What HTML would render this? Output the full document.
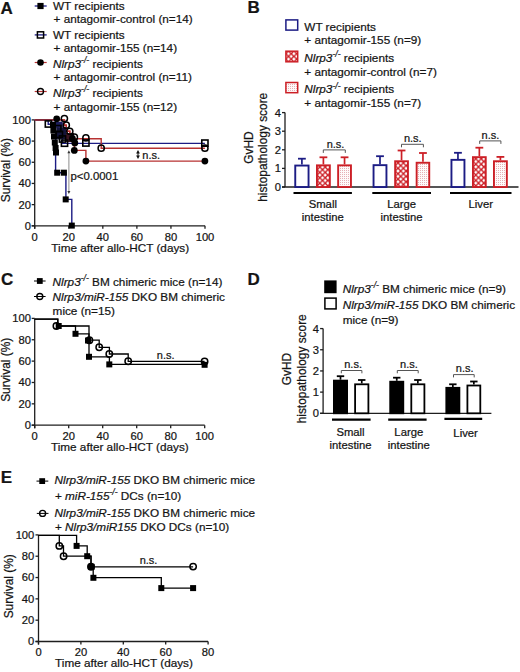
<!DOCTYPE html>
<html><head><meta charset="utf-8"><style>
html,body{margin:0;padding:0;background:#fff;}
svg{display:block;}
text{font-family:"Liberation Sans",sans-serif;fill:#141414;stroke:#141414;stroke-width:0.22px;}
</style></head><body>
<svg width="520" height="672" viewBox="0 0 520 672">
<defs>
<pattern id="xh0" patternUnits="userSpaceOnUse" width="5.4" height="5.4" x="288.50" y="53.70"><rect width="5.4" height="5.4" fill="#cc1f26"/><path d="M0.00,-1.75 L1.75,0.00 L0.00,1.75 L-1.75,0.00 Z M5.40,-1.75 L7.15,0.00 L5.40,1.75 L3.65,0.00 Z M0.00,3.65 L1.75,5.40 L0.00,7.15 L-1.75,5.40 Z M5.40,3.65 L7.15,5.40 L5.40,7.15 L3.65,5.40 Z M2.70,0.95 L4.45,2.70 L2.70,4.45 L0.95,2.70 Z" fill="#fff"/></pattern><pattern id="xh1" patternUnits="userSpaceOnUse" width="5.4" height="5.4" x="317.10" y="167.00"><rect width="5.4" height="5.4" fill="#cc1f26"/><path d="M0.00,-1.75 L1.75,0.00 L0.00,1.75 L-1.75,0.00 Z M5.40,-1.75 L7.15,0.00 L5.40,1.75 L3.65,0.00 Z M0.00,3.65 L1.75,5.40 L0.00,7.15 L-1.75,5.40 Z M5.40,3.65 L7.15,5.40 L5.40,7.15 L3.65,5.40 Z M2.70,0.95 L4.45,2.70 L2.70,4.45 L0.95,2.70 Z" fill="#fff"/></pattern><pattern id="xh2" patternUnits="userSpaceOnUse" width="5.4" height="5.4" x="395.30" y="162.90"><rect width="5.4" height="5.4" fill="#cc1f26"/><path d="M0.00,-1.75 L1.75,0.00 L0.00,1.75 L-1.75,0.00 Z M5.40,-1.75 L7.15,0.00 L5.40,1.75 L3.65,0.00 Z M0.00,3.65 L1.75,5.40 L0.00,7.15 L-1.75,5.40 Z M5.40,3.65 L7.15,5.40 L5.40,7.15 L3.65,5.40 Z M2.70,0.95 L4.45,2.70 L2.70,4.45 L0.95,2.70 Z" fill="#fff"/></pattern><pattern id="xh3" patternUnits="userSpaceOnUse" width="5.4" height="5.4" x="473.10" y="158.80"><rect width="5.4" height="5.4" fill="#cc1f26"/><path d="M0.00,-1.75 L1.75,0.00 L0.00,1.75 L-1.75,0.00 Z M5.40,-1.75 L7.15,0.00 L5.40,1.75 L3.65,0.00 Z M0.00,3.65 L1.75,5.40 L0.00,7.15 L-1.75,5.40 Z M5.40,3.65 L7.15,5.40 L5.40,7.15 L3.65,5.40 Z M2.70,0.95 L4.45,2.70 L2.70,4.45 L0.95,2.70 Z" fill="#fff"/></pattern>
<pattern id="dots" patternUnits="userSpaceOnUse" width="2" height="2" x="0" y="0">
<rect width="2" height="2" fill="#fefafa"/>
<rect x="0" y="0" width="1" height="1" fill="#e6b0b6"/>
</pattern>
</defs>
<rect width="520" height="672" fill="#fff"/>
<text x="0.6" y="13.5" font-size="17" font-weight="bold">A</text>
<text x="247.6" y="13.4" font-size="17" font-weight="bold">B</text>
<text x="1.0" y="284.6" font-size="17" font-weight="bold">C</text>
<text x="247.6" y="284.7" font-size="17" font-weight="bold">D</text>
<text x="0.8" y="482.7" font-size="17" font-weight="bold">E</text>
<line x1="34.7" y1="6.0" x2="46.7" y2="6.0" stroke="#1c1c84" stroke-width="1.3"/>
<rect x="37.40" y="2.90" width="6.2" height="6.2" fill="#000"/>
<line x1="34.7" y1="34.9" x2="46.7" y2="34.9" stroke="#1c1c84" stroke-width="1.3"/>
<rect x="37.40" y="31.80" width="6.2" height="6.2" fill="none" stroke="#000" stroke-width="1.5"/>
<line x1="34.7" y1="62.5" x2="46.7" y2="62.5" stroke="#b83232" stroke-width="1.2"/>
<circle cx="40.5" cy="62.5" r="3.3" fill="#000"/>
<line x1="34.7" y1="91.5" x2="46.7" y2="91.5" stroke="#b83232" stroke-width="1.2"/>
<circle cx="40.5" cy="91.5" r="3.0" fill="none" stroke="#000" stroke-width="1.4"/>
<text x="53.0" y="10.0" font-size="11.75">WT recipients</text>
<text x="53.6" y="23.3" font-size="11.75">+ antagomir-control (n=14)</text>
<text x="53.0" y="38.8" font-size="11.75">WT recipients</text>
<text x="53.6" y="52.3" font-size="11.75">+ antagomir-155 (n=14)</text>
<text x="53.0" y="67.8" font-size="11.75"><tspan font-style="italic">Nlrp3</tspan><tspan font-style="italic" font-size="8.6" dy="-4.6">-/-</tspan><tspan dy="4.6"> recipients</tspan></text>
<text x="53.6" y="81.4" font-size="11.75">+ antagomir-control (n=11)</text>
<text x="53.0" y="97.0" font-size="11.75"><tspan font-style="italic">Nlrp3</tspan><tspan font-style="italic" font-size="8.6" dy="-4.6">-/-</tspan><tspan dy="4.6"> recipients</tspan></text>
<text x="53.6" y="110.5" font-size="11.75">+ antagomir-155 (n=12)</text>
<line x1="34.7" y1="119.90000000000002" x2="34.7" y2="228.8" stroke="#1e1e1e" stroke-width="1.3"/>
<line x1="31.700000000000003" y1="225.8" x2="34.7" y2="225.8" stroke="#1e1e1e" stroke-width="1.3"/>
<text x="31.0" y="229.72" font-size="11.2" text-anchor="end">0</text>
<line x1="31.700000000000003" y1="204.62" x2="34.7" y2="204.62" stroke="#1e1e1e" stroke-width="1.3"/>
<text x="31.0" y="208.54" font-size="11.2" text-anchor="end">20</text>
<line x1="31.700000000000003" y1="183.44" x2="34.7" y2="183.44" stroke="#1e1e1e" stroke-width="1.3"/>
<text x="31.0" y="187.35999999999999" font-size="11.2" text-anchor="end">40</text>
<line x1="31.700000000000003" y1="162.26000000000002" x2="34.7" y2="162.26000000000002" stroke="#1e1e1e" stroke-width="1.3"/>
<text x="31.0" y="166.18" font-size="11.2" text-anchor="end">60</text>
<line x1="31.700000000000003" y1="141.08" x2="34.7" y2="141.08" stroke="#1e1e1e" stroke-width="1.3"/>
<text x="31.0" y="145.0" font-size="11.2" text-anchor="end">80</text>
<line x1="31.700000000000003" y1="119.90000000000002" x2="34.7" y2="119.90000000000002" stroke="#1e1e1e" stroke-width="1.3"/>
<text x="31.0" y="123.82000000000002" font-size="11.2" text-anchor="end">100</text>
<line x1="31.700000000000003" y1="225.8" x2="205.0" y2="225.8" stroke="#1e1e1e" stroke-width="1.3"/>
<line x1="34.7" y1="225.8" x2="34.7" y2="228.8" stroke="#1e1e1e" stroke-width="1.3"/>
<text x="34.7" y="240.8" font-size="11.2" text-anchor="middle">0</text>
<line x1="68.76" y1="225.8" x2="68.76" y2="228.8" stroke="#1e1e1e" stroke-width="1.3"/>
<text x="68.76" y="240.8" font-size="11.2" text-anchor="middle">20</text>
<line x1="102.82000000000001" y1="225.8" x2="102.82000000000001" y2="228.8" stroke="#1e1e1e" stroke-width="1.3"/>
<text x="102.82000000000001" y="240.8" font-size="11.2" text-anchor="middle">40</text>
<line x1="136.88" y1="225.8" x2="136.88" y2="228.8" stroke="#1e1e1e" stroke-width="1.3"/>
<text x="136.88" y="240.8" font-size="11.2" text-anchor="middle">60</text>
<line x1="170.94" y1="225.8" x2="170.94" y2="228.8" stroke="#1e1e1e" stroke-width="1.3"/>
<text x="170.94" y="240.8" font-size="11.2" text-anchor="middle">80</text>
<line x1="205.0" y1="225.8" x2="205.0" y2="228.8" stroke="#1e1e1e" stroke-width="1.3"/>
<text x="205.0" y="240.8" font-size="11.2" text-anchor="middle">100</text>
<text x="10.2" y="170.2" font-size="11.9" text-anchor="middle" transform="rotate(-90 10.2 170.2)">Survival (%)</text>
<text x="120.2" y="252.2" font-size="11.75" text-anchor="middle">Time after allo-HCT (days)</text>
<path d="M34.7,119.9 H55.6 V172.7 H65.9 V199.4 H71.8 V225.8" stroke="#1c1c84" stroke-width="1.4" fill="none"/>
<path d="M34.7,119.9 H48.2 V124.2 H57.8 V128.6 H59.4 V134.4 H62.5 V143.4 H204.9" stroke="#1c1c84" stroke-width="1.4" fill="none"/>
<path d="M34.7,119.9 H64.4 V125.2 H66.3 V131.3 H69.8 V137.2 H74.4 V150.4 H85.9 V161.1 H204.9" stroke="#b83232" stroke-width="1.4" fill="none"/>
<path d="M34.7,119.9 H64.4 V125.2 H66.3 V131.3 H69.8 V138.8 H101.2 V148.2 H204.9" stroke="#b83232" stroke-width="1.4" fill="none"/>
<line x1="35.4" y1="119.9" x2="53.0" y2="119.9" stroke="#742a3c" stroke-width="1.3"/>
<line x1="68.9" y1="152.10000000000002" x2="68.9" y2="192.2" stroke="#8c8c8c" stroke-width="1.0"/>
<path d="M68.9,150.3 L67.4,153.3 L70.4,153.3 Z" fill="#333"/>
<path d="M68.9,194.0 L67.4,191.0 L70.4,191.0 Z" fill="#333"/>
<line x1="138.0" y1="152.04" x2="138.0" y2="156.86" stroke="#111" stroke-width="1.0"/>
<path d="M138.0,150.0 L136.1,153.4 L139.9,153.4 Z" fill="#111"/>
<path d="M138.0,158.9 L136.1,155.5 L139.9,155.5 Z" fill="#111"/>
<text x="70.4" y="180.3" font-size="11.4">p&lt;0.0001</text>
<text x="142.3" y="158.5" font-size="11.0">n.s.</text>
<rect x="51.2" y="121.6" width="11.6" height="6.2" fill="#1c1c5e"/>
<rect x="56.5" y="127.4" width="9.5" height="12.0" fill="#14143a"/>
<rect x="66" y="133" width="8" height="9" fill="#3a1420"/>
<rect x="50.00" y="122.00" width="6.0" height="6.0" fill="#000"/>
<rect x="50.40" y="127.50" width="6.0" height="6.0" fill="#000"/>
<rect x="51.00" y="133.50" width="6.0" height="6.0" fill="#000"/>
<rect x="51.80" y="139.50" width="6.0" height="6.0" fill="#000"/>
<rect x="52.60" y="145.00" width="6.0" height="6.0" fill="#000"/>
<rect x="53.00" y="149.50" width="6.0" height="6.0" fill="#000"/>
<rect x="54.20" y="169.70" width="6.0" height="6.0" fill="#000"/>
<rect x="60.90" y="169.70" width="6.0" height="6.0" fill="#000"/>
<rect x="62.70" y="196.40" width="6.0" height="6.0" fill="#000"/>
<rect x="68.80" y="222.60" width="6.0" height="6.0" fill="#000"/>
<circle cx="56.7" cy="118.8" r="3.4" fill="#000"/>
<circle cx="72.4" cy="138.5" r="3.4" fill="#000"/>
<circle cx="74.8" cy="143.0" r="3.4" fill="#000"/>
<circle cx="74.3" cy="150.4" r="3.4" fill="#000"/>
<circle cx="85.9" cy="161.1" r="3.4" fill="#000"/>
<circle cx="204.9" cy="161.1" r="3.4" fill="#000"/>
<rect x="45.30" y="120.90" width="6.2" height="6.2" fill="none" stroke="#000" stroke-width="1.6"/>
<rect x="54.70" y="125.50" width="6.2" height="6.2" fill="none" stroke="#000" stroke-width="1.6"/>
<rect x="56.30" y="131.30" width="6.2" height="6.2" fill="none" stroke="#000" stroke-width="1.6"/>
<rect x="59.40" y="135.90" width="6.2" height="6.2" fill="none" stroke="#000" stroke-width="1.6"/>
<rect x="61.40" y="140.10" width="6.2" height="6.2" fill="none" stroke="#000" stroke-width="1.6"/>
<rect x="82.80" y="139.90" width="6.2" height="6.2" fill="none" stroke="#000" stroke-width="1.6"/>
<rect x="201.80" y="140.00" width="6.2" height="6.2" fill="none" stroke="#000" stroke-width="1.6"/>
<circle cx="64.4" cy="118.6" r="3.1" fill="none" stroke="#000" stroke-width="1.5"/>
<circle cx="66.3" cy="125.2" r="3.1" fill="none" stroke="#000" stroke-width="1.5"/>
<circle cx="69.8" cy="131.3" r="3.1" fill="none" stroke="#000" stroke-width="1.5"/>
<circle cx="74.4" cy="137.2" r="3.1" fill="none" stroke="#000" stroke-width="1.5"/>
<circle cx="85.9" cy="137.9" r="3.1" fill="none" stroke="#000" stroke-width="1.5"/>
<circle cx="101.2" cy="148.2" r="3.1" fill="none" stroke="#000" stroke-width="1.5"/>
<circle cx="204.9" cy="148.2" r="3.1" fill="none" stroke="#000" stroke-width="1.5"/>
<rect x="285.9" y="19.9" width="11.8" height="10.2" fill="#fff" stroke="#1c1c84" stroke-width="1.5"/>
<rect x="285.9" y="51.2" width="11.8" height="10.6" fill="url(#xh0)" stroke="#cc1f26" stroke-width="1.5"/>
<rect x="285.9" y="82.5" width="11.8" height="10.2" fill="url(#dots)" stroke="#cc1f26" stroke-width="1.5"/>
<text x="304.3" y="30.5" font-size="11.75">WT recipients</text>
<text x="304.3" y="43.9" font-size="11.75">+ antagomir-155 (n=9)</text>
<text x="304.3" y="61.9" font-size="11.75"><tspan font-style="italic">Nlrp3</tspan><tspan font-style="italic" font-size="8.6" dy="-4.6">-/-</tspan><tspan dy="4.6"> recipients</tspan></text>
<text x="304.3" y="75.5" font-size="11.75">+ antagomir-control (n=7)</text>
<text x="304.3" y="93.1" font-size="11.75"><tspan font-style="italic">Nlrp3</tspan><tspan font-style="italic" font-size="8.6" dy="-4.6">-/-</tspan><tspan dy="4.6"> recipients</tspan></text>
<text x="304.3" y="106.6" font-size="11.75">+ antagomir-155 (n=7)</text>
<line x1="285.0" y1="112.6" x2="285.0" y2="187.0" stroke="#1e1e1e" stroke-width="1.3"/>
<line x1="282.0" y1="187.0" x2="285.0" y2="187.0" stroke="#1e1e1e" stroke-width="1.3"/>
<text x="281.0" y="190.92" font-size="11.2" text-anchor="end">0</text>
<line x1="282.0" y1="168.4" x2="285.0" y2="168.4" stroke="#1e1e1e" stroke-width="1.3"/>
<text x="281.0" y="172.32" font-size="11.2" text-anchor="end">1</text>
<line x1="282.0" y1="149.8" x2="285.0" y2="149.8" stroke="#1e1e1e" stroke-width="1.3"/>
<text x="281.0" y="153.72" font-size="11.2" text-anchor="end">2</text>
<line x1="282.0" y1="131.2" x2="285.0" y2="131.2" stroke="#1e1e1e" stroke-width="1.3"/>
<text x="281.0" y="135.11999999999998" font-size="11.2" text-anchor="end">3</text>
<line x1="282.0" y1="112.6" x2="285.0" y2="112.6" stroke="#1e1e1e" stroke-width="1.3"/>
<text x="281.0" y="116.52" font-size="11.2" text-anchor="end">4</text>
<line x1="282.0" y1="187.0" x2="518.5" y2="187.0" stroke="#1e1e1e" stroke-width="1.3"/>
<text x="253.0" y="147.6" font-size="11.9" text-anchor="middle" transform="rotate(-90 253.0 147.6)">GvHD</text>
<text x="266.6" y="147.3" font-size="11.9" text-anchor="middle" transform="rotate(-90 266.6 147.3)">histopathology score</text>
<line x1="301.9" y1="164.6" x2="301.9" y2="158.7" stroke="#1c1c84" stroke-width="1.7"/>
<line x1="298.0" y1="158.7" x2="305.79999999999995" y2="158.7" stroke="#1c1c84" stroke-width="1.8"/>
<rect x="295.25" y="165.55" width="13.30" height="21.45" fill="#fff" stroke="#1c1c84" stroke-width="1.9"/>
<line x1="323.4" y1="164.4" x2="323.4" y2="157.3" stroke="#cc1f26" stroke-width="1.7"/>
<line x1="319.5" y1="157.3" x2="327.29999999999995" y2="157.3" stroke="#cc1f26" stroke-width="1.8"/>
<rect x="316.95" y="165.35" width="12.90" height="21.65" fill="url(#xh1)" stroke="#cc1f26" stroke-width="1.9"/>
<line x1="344.54999999999995" y1="164.4" x2="344.54999999999995" y2="157.3" stroke="#cc1f26" stroke-width="1.7"/>
<line x1="340.65" y1="157.3" x2="348.44999999999993" y2="157.3" stroke="#cc1f26" stroke-width="1.8"/>
<rect x="338.15" y="165.35" width="12.80" height="21.65" fill="url(#dots)" stroke="#cc1f26" stroke-width="1.9"/>
<line x1="380.0" y1="164.2" x2="380.0" y2="156.2" stroke="#1c1c84" stroke-width="1.7"/>
<line x1="376.1" y1="156.2" x2="383.9" y2="156.2" stroke="#1c1c84" stroke-width="1.8"/>
<rect x="373.55" y="165.15" width="12.90" height="21.85" fill="#fff" stroke="#1c1c84" stroke-width="1.9"/>
<line x1="401.54999999999995" y1="160.3" x2="401.54999999999995" y2="150.5" stroke="#cc1f26" stroke-width="1.7"/>
<line x1="397.65" y1="150.5" x2="405.44999999999993" y2="150.5" stroke="#cc1f26" stroke-width="1.8"/>
<rect x="395.15" y="161.25" width="12.80" height="25.75" fill="url(#xh2)" stroke="#cc1f26" stroke-width="1.9"/>
<line x1="422.95" y1="161.8" x2="422.95" y2="153.0" stroke="#cc1f26" stroke-width="1.7"/>
<line x1="419.05" y1="153.0" x2="426.84999999999997" y2="153.0" stroke="#cc1f26" stroke-width="1.8"/>
<rect x="416.65" y="162.75" width="12.60" height="24.25" fill="url(#dots)" stroke="#cc1f26" stroke-width="1.9"/>
<line x1="457.95" y1="158.9" x2="457.95" y2="152.8" stroke="#1c1c84" stroke-width="1.7"/>
<line x1="454.05" y1="152.8" x2="461.84999999999997" y2="152.8" stroke="#1c1c84" stroke-width="1.8"/>
<rect x="451.45" y="159.85" width="13.00" height="27.15" fill="#fff" stroke="#1c1c84" stroke-width="1.9"/>
<line x1="479.35" y1="156.2" x2="479.35" y2="147.7" stroke="#cc1f26" stroke-width="1.7"/>
<line x1="475.45000000000005" y1="147.7" x2="483.25" y2="147.7" stroke="#cc1f26" stroke-width="1.8"/>
<rect x="472.95" y="157.15" width="12.80" height="29.85" fill="url(#xh3)" stroke="#cc1f26" stroke-width="1.9"/>
<line x1="500.4" y1="160.3" x2="500.4" y2="156.9" stroke="#cc1f26" stroke-width="1.7"/>
<line x1="496.5" y1="156.9" x2="504.29999999999995" y2="156.9" stroke="#cc1f26" stroke-width="1.8"/>
<rect x="493.95" y="161.25" width="12.90" height="25.75" fill="url(#dots)" stroke="#cc1f26" stroke-width="1.9"/>
<path d="M323.3,152.9 V149.9 H345.3 V152.9" stroke="#555" stroke-width="1.0" fill="none"/>
<text x="335.5" y="147.6" font-size="11.0" text-anchor="middle">n.s.</text>
<path d="M401.5,147.3 V144.3 H423.4 V147.3" stroke="#555" stroke-width="1.0" fill="none"/>
<text x="412.8" y="142.0" font-size="11.0" text-anchor="middle">n.s.</text>
<path d="M479.7,143.9 V140.9 H500.9 V143.9" stroke="#555" stroke-width="1.0" fill="none"/>
<text x="490.4" y="138.7" font-size="11.0" text-anchor="middle">n.s.</text>
<line x1="293.5" y1="193.0" x2="351.9" y2="193.0" stroke="#000" stroke-width="2.2"/>
<line x1="372.3" y1="193.0" x2="431.0" y2="193.0" stroke="#000" stroke-width="2.2"/>
<line x1="450.0" y1="193.0" x2="511.5" y2="193.0" stroke="#000" stroke-width="2.2"/>
<text x="322.8" y="207.8" font-size="11.3" text-anchor="middle">Small</text>
<text x="322.8" y="220.9" font-size="11.3" text-anchor="middle">intestine</text>
<text x="401.6" y="207.8" font-size="11.3" text-anchor="middle">Large</text>
<text x="401.6" y="220.9" font-size="11.3" text-anchor="middle">intestine</text>
<text x="480.8" y="208.1" font-size="11.3" text-anchor="middle">Liver</text>
<line x1="34.0" y1="281.0" x2="45.6" y2="281.0" stroke="#000" stroke-width="1.0"/>
<rect x="36.90" y="278.10" width="5.8" height="5.8" fill="#000"/>
<line x1="34.0" y1="296.5" x2="45.6" y2="296.5" stroke="#000" stroke-width="1.0"/>
<circle cx="39.8" cy="296.5" r="3.0" fill="none" stroke="#000" stroke-width="1.4"/>
<text x="52.6" y="285.9" font-size="11.75"><tspan font-style="italic">Nlrp3</tspan><tspan font-style="italic" font-size="8.6" dy="-4.6">-/-</tspan><tspan dy="4.6"> BM chimeric mice (n=14)</tspan></text>
<text x="52.6" y="300.5" font-size="11.75"><tspan font-style="italic">Nlrp3/miR-155</tspan> DKO BM chimeric</text>
<text x="52.6" y="315.1" font-size="11.75">mice (n=15)</text>
<line x1="34.7" y1="318.4" x2="34.7" y2="428.2" stroke="#1e1e1e" stroke-width="1.3"/>
<line x1="31.700000000000003" y1="425.2" x2="34.7" y2="425.2" stroke="#1e1e1e" stroke-width="1.3"/>
<text x="31.0" y="429.12" font-size="11.2" text-anchor="end">0</text>
<line x1="31.700000000000003" y1="403.84" x2="34.7" y2="403.84" stroke="#1e1e1e" stroke-width="1.3"/>
<text x="31.0" y="407.76" font-size="11.2" text-anchor="end">20</text>
<line x1="31.700000000000003" y1="382.48" x2="34.7" y2="382.48" stroke="#1e1e1e" stroke-width="1.3"/>
<text x="31.0" y="386.40000000000003" font-size="11.2" text-anchor="end">40</text>
<line x1="31.700000000000003" y1="361.12" x2="34.7" y2="361.12" stroke="#1e1e1e" stroke-width="1.3"/>
<text x="31.0" y="365.04" font-size="11.2" text-anchor="end">60</text>
<line x1="31.700000000000003" y1="339.76" x2="34.7" y2="339.76" stroke="#1e1e1e" stroke-width="1.3"/>
<text x="31.0" y="343.68" font-size="11.2" text-anchor="end">80</text>
<line x1="31.700000000000003" y1="318.4" x2="34.7" y2="318.4" stroke="#1e1e1e" stroke-width="1.3"/>
<text x="31.0" y="322.32" font-size="11.2" text-anchor="end">100</text>
<line x1="31.700000000000003" y1="425.2" x2="204.7" y2="425.2" stroke="#1e1e1e" stroke-width="1.3"/>
<line x1="34.7" y1="425.2" x2="34.7" y2="428.2" stroke="#1e1e1e" stroke-width="1.3"/>
<text x="34.7" y="439.8" font-size="11.2" text-anchor="middle">0</text>
<line x1="68.7" y1="425.2" x2="68.7" y2="428.2" stroke="#1e1e1e" stroke-width="1.3"/>
<text x="68.7" y="439.8" font-size="11.2" text-anchor="middle">20</text>
<line x1="102.7" y1="425.2" x2="102.7" y2="428.2" stroke="#1e1e1e" stroke-width="1.3"/>
<text x="102.7" y="439.8" font-size="11.2" text-anchor="middle">40</text>
<line x1="136.7" y1="425.2" x2="136.7" y2="428.2" stroke="#1e1e1e" stroke-width="1.3"/>
<text x="136.7" y="439.8" font-size="11.2" text-anchor="middle">60</text>
<line x1="170.7" y1="425.2" x2="170.7" y2="428.2" stroke="#1e1e1e" stroke-width="1.3"/>
<text x="170.7" y="439.8" font-size="11.2" text-anchor="middle">80</text>
<line x1="204.7" y1="425.2" x2="204.7" y2="428.2" stroke="#1e1e1e" stroke-width="1.3"/>
<text x="204.7" y="439.8" font-size="11.2" text-anchor="middle">100</text>
<text x="9.9" y="369.8" font-size="11.9" text-anchor="middle" transform="rotate(-90 9.9 369.8)">Survival (%)</text>
<text x="119.8" y="451.4" font-size="11.75" text-anchor="middle">Time after allo-HCT (days)</text>
<path d="M34.7,319.2 H57.8 V326.0 H75.5 V333.8 H89.0 V356.8 H109.4 V364.4 H204.6" stroke="#000" stroke-width="1.3" fill="none"/>
<path d="M34.7,319.2 H57.8 V326.0 H89.0 V340.2 H99.2 V347.3 H109.4 V354.0 H128.2 V361.3 H204.6" stroke="#000" stroke-width="1.3" fill="none"/>
<rect x="55.70" y="323.00" width="6.0" height="6.0" fill="#000"/>
<rect x="72.50" y="330.80" width="6.0" height="6.0" fill="#000"/>
<rect x="85.00" y="337.50" width="6.0" height="6.0" fill="#000"/>
<rect x="86.00" y="353.80" width="6.0" height="6.0" fill="#000"/>
<rect x="106.30" y="361.40" width="6.0" height="6.0" fill="#000"/>
<rect x="201.60" y="361.80" width="6.0" height="6.0" fill="#000"/>
<circle cx="56.4" cy="326.0" r="3.2" fill="none" stroke="#000" stroke-width="1.5"/>
<circle cx="89.4" cy="340.2" r="3.2" fill="none" stroke="#000" stroke-width="1.5"/>
<circle cx="99.2" cy="347.3" r="3.2" fill="none" stroke="#000" stroke-width="1.5"/>
<circle cx="109.3" cy="354.0" r="3.2" fill="none" stroke="#000" stroke-width="1.5"/>
<circle cx="128.2" cy="361.3" r="3.2" fill="none" stroke="#000" stroke-width="1.5"/>
<circle cx="204.6" cy="361.5" r="3.2" fill="none" stroke="#000" stroke-width="1.5"/>
<text x="156.8" y="358.6" font-size="11.0">n.s.</text>
<rect x="324.2" y="280.4" width="12.4" height="12.8" fill="#000"/>
<rect x="324.9" y="298.1" width="11.2" height="10.8" fill="#fff" stroke="#000" stroke-width="1.5"/>
<text x="342.7" y="293.0" font-size="11.75"><tspan font-style="italic">Nlrp3</tspan><tspan font-style="italic" font-size="8.6" dy="-4.6">-/-</tspan><tspan dy="4.6"> BM chimeric mice (n=9)</tspan></text>
<text x="342.7" y="309.0" font-size="11.75"><tspan font-style="italic">Nlrp3/miR-155</tspan> DKO BM chimeric</text>
<text x="342.7" y="323.7" font-size="11.75">mice (n=9)</text>
<line x1="323.1" y1="328.58000000000004" x2="323.1" y2="413.3" stroke="#1e1e1e" stroke-width="1.3"/>
<line x1="320.1" y1="413.3" x2="323.1" y2="413.3" stroke="#1e1e1e" stroke-width="1.3"/>
<text x="319.0" y="417.22" font-size="11.2" text-anchor="end">0</text>
<line x1="320.1" y1="392.12" x2="323.1" y2="392.12" stroke="#1e1e1e" stroke-width="1.3"/>
<text x="319.0" y="396.04" font-size="11.2" text-anchor="end">1</text>
<line x1="320.1" y1="370.94" x2="323.1" y2="370.94" stroke="#1e1e1e" stroke-width="1.3"/>
<text x="319.0" y="374.86" font-size="11.2" text-anchor="end">2</text>
<line x1="320.1" y1="349.76" x2="323.1" y2="349.76" stroke="#1e1e1e" stroke-width="1.3"/>
<text x="319.0" y="353.68" font-size="11.2" text-anchor="end">3</text>
<line x1="320.1" y1="328.58000000000004" x2="323.1" y2="328.58000000000004" stroke="#1e1e1e" stroke-width="1.3"/>
<text x="319.0" y="332.50000000000006" font-size="11.2" text-anchor="end">4</text>
<line x1="320.1" y1="413.3" x2="491.4" y2="413.3" stroke="#1e1e1e" stroke-width="1.3"/>
<text x="291.4" y="369.0" font-size="11.9" text-anchor="middle" transform="rotate(-90 291.4 369.0)">GvHD</text>
<text x="306.4" y="368.8" font-size="11.9" text-anchor="middle" transform="rotate(-90 306.4 368.8)">histopathology score</text>
<line x1="340.5" y1="379.7" x2="340.5" y2="376.2" stroke="#000" stroke-width="1.7"/>
<line x1="336.8" y1="376.2" x2="344.2" y2="376.2" stroke="#000" stroke-width="1.8"/>
<rect x="333.90" y="380.60" width="13.20" height="32.70" fill="#000" stroke="#000" stroke-width="1.8"/>
<line x1="361.75" y1="383.4" x2="361.75" y2="380.0" stroke="#000" stroke-width="1.7"/>
<line x1="358.05" y1="380.0" x2="365.45" y2="380.0" stroke="#000" stroke-width="1.8"/>
<rect x="355.10" y="384.30" width="13.30" height="29.00" fill="#fff" stroke="#000" stroke-width="1.8"/>
<line x1="396.75" y1="380.8" x2="396.75" y2="377.7" stroke="#000" stroke-width="1.7"/>
<line x1="393.05" y1="377.7" x2="400.45" y2="377.7" stroke="#000" stroke-width="1.8"/>
<rect x="390.20" y="381.70" width="13.10" height="31.60" fill="#000" stroke="#000" stroke-width="1.8"/>
<line x1="417.85" y1="383.4" x2="417.85" y2="380.0" stroke="#000" stroke-width="1.7"/>
<line x1="414.15000000000003" y1="380.0" x2="421.55" y2="380.0" stroke="#000" stroke-width="1.8"/>
<rect x="411.30" y="384.30" width="13.10" height="29.00" fill="#fff" stroke="#000" stroke-width="1.8"/>
<line x1="452.85" y1="386.9" x2="452.85" y2="384.3" stroke="#000" stroke-width="1.7"/>
<line x1="449.15000000000003" y1="384.3" x2="456.55" y2="384.3" stroke="#000" stroke-width="1.8"/>
<rect x="446.30" y="387.80" width="13.10" height="25.50" fill="#000" stroke="#000" stroke-width="1.8"/>
<line x1="473.85" y1="384.6" x2="473.85" y2="381.5" stroke="#000" stroke-width="1.7"/>
<line x1="470.15000000000003" y1="381.5" x2="477.55" y2="381.5" stroke="#000" stroke-width="1.8"/>
<rect x="467.40" y="385.50" width="12.90" height="27.80" fill="#fff" stroke="#000" stroke-width="1.8"/>
<path d="M341.3,373.3 V370.5 H361.9 V373.3" stroke="#555" stroke-width="1.0" fill="none"/>
<text x="353.1" y="368.0" font-size="11.0" text-anchor="middle">n.s.</text>
<path d="M397.3,373.3 V370.5 H418.2 V373.3" stroke="#555" stroke-width="1.0" fill="none"/>
<text x="408.9" y="367.9" font-size="11.0" text-anchor="middle">n.s.</text>
<path d="M453.5,377.40000000000003 V374.6 H474.2 V377.40000000000003" stroke="#555" stroke-width="1.0" fill="none"/>
<text x="464.7" y="372.1" font-size="11.0" text-anchor="middle">n.s.</text>
<line x1="332.0" y1="419.6" x2="370.6" y2="419.6" stroke="#000" stroke-width="2.2"/>
<line x1="388.2" y1="419.6" x2="426.6" y2="419.6" stroke="#000" stroke-width="2.2"/>
<line x1="444.4" y1="418.8" x2="482.2" y2="418.8" stroke="#000" stroke-width="2.2"/>
<text x="350.5" y="435.9" font-size="11.3" text-anchor="middle">Small</text>
<text x="350.6" y="448.9" font-size="11.3" text-anchor="middle">intestine</text>
<text x="408.8" y="435.9" font-size="11.3" text-anchor="middle">Large</text>
<text x="408.8" y="448.9" font-size="11.3" text-anchor="middle">intestine</text>
<text x="465.6" y="437.1" font-size="11.3" text-anchor="middle">Liver</text>
<line x1="36.5" y1="481.1" x2="48.3" y2="481.1" stroke="#000" stroke-width="1.0"/>
<rect x="39.30" y="478.20" width="5.8" height="5.8" fill="#000"/>
<line x1="36.8" y1="513.4" x2="48.5" y2="513.4" stroke="#000" stroke-width="1.0"/>
<circle cx="42.6" cy="513.4" r="3.0" fill="none" stroke="#000" stroke-width="1.4"/>
<text x="54.6" y="484.1" font-size="11.75"><tspan font-style="italic">Nlrp3/miR-155</tspan> DKO BM chimeric mice</text>
<text x="54.9" y="499.9" font-size="11.75">+ <tspan font-style="italic">miR-155</tspan><tspan font-style="italic" font-size="8.6" dy="-4.6">-/-</tspan><tspan dy="4.6"> DCs (n=10)</tspan></text>
<text x="54.6" y="516.6" font-size="11.75"><tspan font-style="italic">Nlrp3/miR-155</tspan> DKO BM chimeric mice</text>
<text x="54.9" y="530.6" font-size="11.75">+ <tspan font-style="italic">Nlrp3/miR155</tspan> DKO DCs (n=10)</text>
<line x1="38.5" y1="534.9" x2="38.5" y2="644.5" stroke="#1e1e1e" stroke-width="1.3"/>
<line x1="35.5" y1="641.5" x2="38.5" y2="641.5" stroke="#1e1e1e" stroke-width="1.3"/>
<text x="34.3" y="645.42" font-size="11.2" text-anchor="end">0</text>
<line x1="35.5" y1="620.18" x2="38.5" y2="620.18" stroke="#1e1e1e" stroke-width="1.3"/>
<text x="34.3" y="624.0999999999999" font-size="11.2" text-anchor="end">20</text>
<line x1="35.5" y1="598.86" x2="38.5" y2="598.86" stroke="#1e1e1e" stroke-width="1.3"/>
<text x="34.3" y="602.78" font-size="11.2" text-anchor="end">40</text>
<line x1="35.5" y1="577.54" x2="38.5" y2="577.54" stroke="#1e1e1e" stroke-width="1.3"/>
<text x="34.3" y="581.4599999999999" font-size="11.2" text-anchor="end">60</text>
<line x1="35.5" y1="556.22" x2="38.5" y2="556.22" stroke="#1e1e1e" stroke-width="1.3"/>
<text x="34.3" y="560.14" font-size="11.2" text-anchor="end">80</text>
<line x1="35.5" y1="534.9" x2="38.5" y2="534.9" stroke="#1e1e1e" stroke-width="1.3"/>
<text x="34.3" y="538.8199999999999" font-size="11.2" text-anchor="end">100</text>
<line x1="35.5" y1="641.5" x2="208.10000000000002" y2="641.5" stroke="#1e1e1e" stroke-width="1.3"/>
<line x1="38.5" y1="641.5" x2="38.5" y2="644.5" stroke="#1e1e1e" stroke-width="1.3"/>
<text x="38.5" y="655.9" font-size="11.2" text-anchor="middle">0</text>
<line x1="80.9" y1="641.5" x2="80.9" y2="644.5" stroke="#1e1e1e" stroke-width="1.3"/>
<text x="80.9" y="655.9" font-size="11.2" text-anchor="middle">20</text>
<line x1="123.30000000000001" y1="641.5" x2="123.30000000000001" y2="644.5" stroke="#1e1e1e" stroke-width="1.3"/>
<text x="123.30000000000001" y="655.9" font-size="11.2" text-anchor="middle">40</text>
<line x1="165.7" y1="641.5" x2="165.7" y2="644.5" stroke="#1e1e1e" stroke-width="1.3"/>
<text x="165.7" y="655.9" font-size="11.2" text-anchor="middle">60</text>
<line x1="208.10000000000002" y1="641.5" x2="208.10000000000002" y2="644.5" stroke="#1e1e1e" stroke-width="1.3"/>
<text x="208.10000000000002" y="655.9" font-size="11.2" text-anchor="middle">80</text>
<text x="13.4" y="586.3" font-size="11.9" text-anchor="middle" transform="rotate(-90 13.4 586.3)">Survival (%)</text>
<text x="124.0" y="667.3" font-size="11.75" text-anchor="middle">Time after allo-HCT (days)</text>
<path d="M38.5,535.3 H76.6 V545.9 H87.2 V556.2 H91.0 V566.8 H93.2 V577.6 H161.3 V588.1 H193.1" stroke="#000" stroke-width="1.3" fill="none"/>
<path d="M38.5,535.3 H59.3 V545.9 H63.5 V556.2 H91.0 V566.8 H193.1" stroke="#000" stroke-width="1.3" fill="none"/>
<rect x="73.60" y="542.90" width="6.0" height="6.0" fill="#000"/>
<rect x="84.20" y="553.20" width="6.0" height="6.0" fill="#000"/>
<rect x="88.60" y="563.80" width="6.0" height="6.0" fill="#000"/>
<rect x="90.40" y="574.80" width="6.0" height="6.0" fill="#000"/>
<rect x="158.30" y="585.10" width="6.0" height="6.0" fill="#000"/>
<rect x="190.10" y="585.10" width="6.0" height="6.0" fill="#000"/>
<circle cx="59.3" cy="545.9" r="3.2" fill="none" stroke="#000" stroke-width="1.5"/>
<circle cx="63.6" cy="556.2" r="3.2" fill="none" stroke="#000" stroke-width="1.5"/>
<circle cx="91.0" cy="566.8" r="3.2" fill="none" stroke="#000" stroke-width="1.5"/>
<circle cx="193.1" cy="566.6" r="3.2" fill="none" stroke="#000" stroke-width="1.5"/>
<circle cx="91.0" cy="566.8" r="3.2" fill="#000"/>
<text x="139.7" y="563.6" font-size="11.0">n.s.</text>
</svg>
</body></html>
